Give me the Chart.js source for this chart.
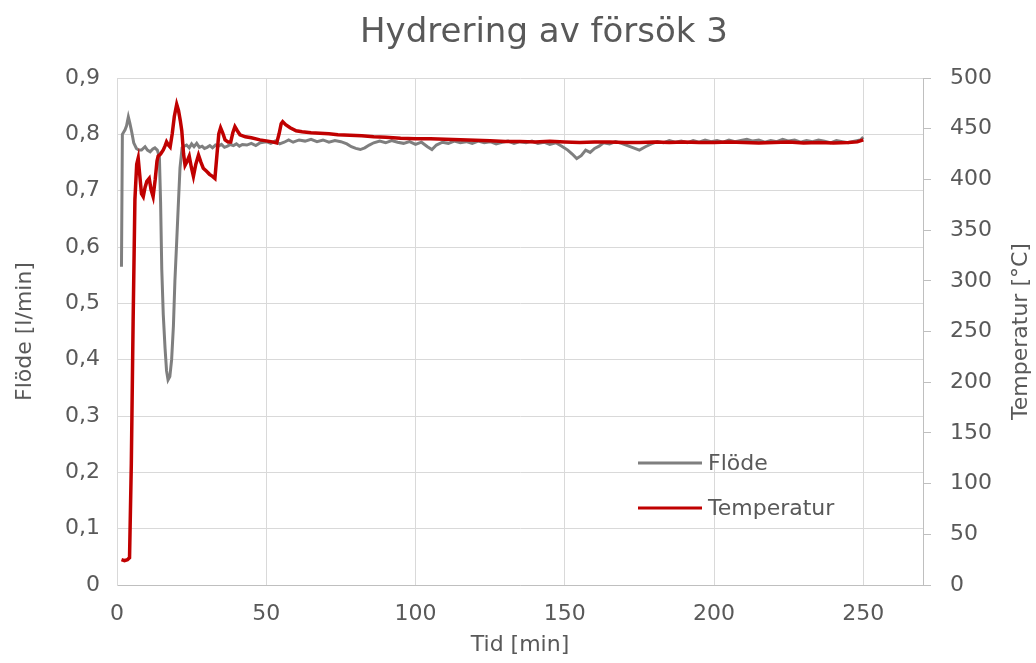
<!DOCTYPE html>
<html lang="sv">
<head>
<meta charset="utf-8">
<title>Hydrering av försök 3</title>
<script src="https://cdn.jsdelivr.net/npm/chart.js@4/dist/chart.umd.min.js"></script>
<style>
  html, body { margin: 0; padding: 0; background: #ffffff; }
  #wrap { width: 1036px; height: 663px; position: relative; }
</style>
</head>
<body>
<div id="wrap"><canvas id="chart" width="1036" height="663"></canvas></div>
<script>
// Flow (l/min) logged against time (min)
const flowTime = [1.5,1.8,2.7,3.2,3.8,4.3,4.9,5.6,6.5,7.3,8.2,9.4,10.2,11.1,12.0,12.7,13.5,14.2,14.6,15.0,15.5,16.1,16.6,17.1,17.7,18.3,18.9,19.4,20.0,20.5,21.1,21.8,22.5,23.3,24.2,25.0,25.8,26.7,27.6,28.5,29.3,30.2,31.1,32.0,33.0,34.0,35.0,36.0,37.0,38.0,39.0,40,41,42,43.5,45,46.5,48,50,51.5,53,54.5,56,57.5,59,61,63,65,67,69,71,73,75,77,78.5,80,81.5,83,84.5,86,88,90,92,94,96,98,100,102,104,105.5,107,109,111,113,115,117,119,121,123,125,127,129,131,133,135,137,139,141,143,145,147,149,151,152.5,154,155.5,157,158.5,160,161.5,163,165,167,169,171,173,175,177,179,181,183,185,187,189,191,193,195,197,199,201,203,205,207,209,211,213,215,217,219,221,223,225,227,229,231,233,235,237,239,241,243,245,247,249,250];
const flowValues = [0.565,0.80,0.808,0.815,0.831,0.82,0.805,0.785,0.775,0.772,0.772,0.778,0.772,0.769,0.774,0.776,0.772,0.76,0.68,0.56,0.48,0.42,0.38,0.364,0.37,0.40,0.46,0.54,0.61,0.67,0.74,0.776,0.779,0.781,0.776,0.783,0.778,0.784,0.777,0.779,0.775,0.777,0.78,0.776,0.781,0.779,0.782,0.777,0.779,0.782,0.78,0.783,0.779,0.782,0.781,0.784,0.78,0.785,0.787,0.784,0.788,0.783,0.786,0.79,0.786,0.79,0.788,0.791,0.787,0.79,0.786,0.789,0.787,0.783,0.778,0.775,0.773,0.776,0.781,0.785,0.788,0.785,0.789,0.786,0.784,0.787,0.782,0.786,0.778,0.773,0.781,0.786,0.784,0.788,0.785,0.787,0.784,0.788,0.785,0.787,0.783,0.786,0.788,0.784,0.787,0.785,0.788,0.784,0.786,0.782,0.785,0.779,0.772,0.765,0.757,0.762,0.772,0.768,0.775,0.779,0.785,0.783,0.787,0.784,0.78,0.776,0.772,0.778,0.783,0.787,0.785,0.789,0.786,0.788,0.785,0.789,0.786,0.79,0.787,0.789,0.786,0.79,0.787,0.789,0.791,0.788,0.79,0.786,0.789,0.787,0.791,0.788,0.79,0.786,0.789,0.787,0.79,0.788,0.785,0.789,0.787,0.785,0.788,0.79,0.795];

// Reactor temperature (°C) logged against time (min)
const tempTime = [1.5,2.5,3.5,4.2,4.8,5.4,6.0,6.6,7.1,7.6,8.2,8.8,9.4,10.0,10.8,11.4,12.1,12.8,13.4,13.8,14.6,15.5,16.1,16.6,17.2,17.8,18.5,19.2,20.0,20.6,21.2,21.7,22.3,22.8,23.5,24.2,24.9,25.6,26.4,27.3,28.1,28.9,30,31,32,32.8,33.5,34.1,34.7,35.4,36.2,37.2,38.1,38.8,39.5,40.3,41.2,43,45,47.9,50,52,53.5,54.3,55.0,55.5,56.5,58,60,62,65,68,71,74,78,82,86,90,95,100,105,110,115,120,125,130,135,140,145,150,155,160,165,170,175,180,185,190,195,200,205,210,215,220,225,230,235,240,245,248,250];
const tempValues = [25,24,25,27,120,260,380,415,421,405,386,383,392,398,401,390,383,400,418,423,425,429,433,437,434,432,445,462,474,468,458,448,425,414,418,423,412,403,415,424,417,411,408,405,403,401,425,445,451,446,439,437,437,446,452,448,444,442,441,439,438,437,436,445,455,457,454,451,448,447,446,445.5,445,444,443.5,443,442,441.5,440.5,440,440,439.5,439,438.5,438,437.5,437.5,437,437.5,437,436.5,437,437,436.5,436.5,437,436.5,437,436.5,436.5,437,436.5,436,436.5,437,436,436.5,436,436.5,437,439];

// Axis tick labels
const timeTicks = [0, 50, 100, 150, 200, 250];
const flowTickLabels = ['0', '0,1', '0,2', '0,3', '0,4', '0,5', '0,6', '0,7', '0,8', '0,9'];
const tempTickLabels = ['0', '50', '100', '150', '200', '250', '300', '350', '400', '450', '500'];

const seriesNames = ['Flöde', 'Temperatur'];
const seriesColors = ['#7f7f7f', '#c00000'];

const TEXT = '#595959';
const GRID = '#d9d9d9';
const AXIS = '#bfbfbf';
const FONT = 'DejaVu Sans';

const toPoints = (xs, ys) => xs.map((x, i) => ({ x, y: ys[i] }));

// Chart title and right-hand axis title (drawn upward like the left one)
const textPlugin = {
  id: 'chartTexts',
  afterDraw(chart) {
    const { ctx, chartArea } = chart;
    ctx.save();
    ctx.fillStyle = TEXT;
    ctx.textAlign = 'center';
    ctx.textBaseline = 'middle';
    ctx.font = `34px "${FONT}"`;
    ctx.fillText('Hydrering av försök 3', 544, 33);
    ctx.translate(1021, (chartArea.top + chartArea.bottom) / 2);
    ctx.rotate(-Math.PI / 2);
    ctx.font = `22px "${FONT}"`;
    ctx.fillText('Temperatur [°C]', 0, 0);
    ctx.restore();
  }
};

// Legend placed inside the plot area
const legendPlugin = {
  id: 'innerLegend',
  afterDraw(chart) {
    const { ctx } = chart;
    const rows = [463, 508];
    ctx.save();
    ctx.font = `22px "${FONT}"`;
    ctx.textAlign = 'left';
    ctx.textBaseline = 'middle';
    chart.data.datasets.forEach((ds, i) => {
      const y = rows[i];
      ctx.strokeStyle = ds.borderColor;
      ctx.lineWidth = 3;
      ctx.beginPath();
      ctx.moveTo(638, y);
      ctx.lineTo(702, y);
      ctx.stroke();
      ctx.fillStyle = TEXT;
      ctx.fillText(ds.label, 708, y + 1);
    });
    ctx.restore();
  }
};

new Chart(document.getElementById('chart'), {
  type: 'line',
  data: {
    datasets: [
      {
        label: seriesNames[0],
        data: toPoints(flowTime, flowValues),
        yAxisID: 'y',
        borderColor: seriesColors[0],
        backgroundColor: seriesColors[0],
        borderWidth: 3,
        pointRadius: 0,
        tension: 0,
        order: 1
      },
      {
        label: seriesNames[1],
        data: toPoints(tempTime, tempValues),
        yAxisID: 'y1',
        borderColor: seriesColors[1],
        backgroundColor: seriesColors[1],
        borderWidth: 3.5,
        pointRadius: 0,
        tension: 0,
        order: 0
      }
    ]
  },
  options: {
    responsive: false,
    animation: false,
    events: [],
    layout: { padding: { top: 78, left: 0, right: 0, bottom: 0 } },
    plugins: {
      legend: { display: false },
      tooltip: { enabled: false },
      title: { display: false }
    },
    scales: {
      x: {
        type: 'linear',
        min: 0,
        max: 270,
        bounds: 'data',
        afterBuildTicks: s => { s.ticks = timeTicks.map(v => ({ value: v })); },
        afterFit: s => { s.height = 78; },
        grid: { color: GRID, lineWidth: 1, drawTicks: false },
        border: { display: true, color: AXIS, width: 1 },
        ticks: {
          color: TEXT,
          font: { family: FONT, size: 22 },
          padding: 16,
          maxRotation: 0,
          callback: v => String(v)
        },
        title: {
          display: true,
          text: 'Tid [min]',
          color: TEXT,
          font: { family: FONT, size: 22 },
          padding: { top: 0, bottom: 5 }
        }
      },
      y: {
        type: 'linear',
        position: 'left',
        min: 0,
        max: 0.9,
        afterBuildTicks: s => { s.ticks = flowTickLabels.map((_, i) => ({ value: i / 10 })); },
        afterFit: s => { s.width = 117; },
        grid: { color: GRID, lineWidth: 1, drawTicks: false },
        border: { display: true, color: GRID, width: 1 },
        ticks: {
          color: TEXT,
          font: { family: FONT, size: 22 },
          padding: 17,
          callback: (v, i) => flowTickLabels[i]
        },
        title: {
          display: true,
          text: 'Flöde [l/min]',
          color: TEXT,
          font: { family: FONT, size: 22 },
          padding: { top: 12, bottom: 0 }
        }
      },
      y1: {
        type: 'linear',
        position: 'right',
        min: 0,
        max: 500,
        afterBuildTicks: s => { s.ticks = tempTickLabels.map((_, i) => ({ value: i * 50 })); },
        afterFit: s => { s.width = 113; },
        grid: { drawOnChartArea: false, drawTicks: true, tickLength: 8, tickColor: AXIS, color: AXIS },
        border: { display: true, color: AXIS, width: 1 },
        ticks: {
          color: TEXT,
          font: { family: FONT, size: 22 },
          padding: 19,
          callback: (v, i) => tempTickLabels[i]
        }
      }
    }
  },
  plugins: [textPlugin, legendPlugin]
});
</script>
</body>
</html>
